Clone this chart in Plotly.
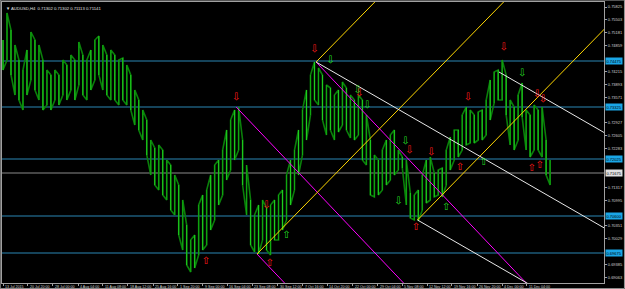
import plotly.graph_objects as go

# ---------------- data ----------------
symbol_title = "AUDUSD,H4  0.71302 0.71302 0.71113 0.71141"
bars_per_sample = 5

high = [0.75, 0.75675, 0.7525, 0.74875, 0.745, 0.7425, 0.7475, 0.752, 0.75, 0.74875,
        0.745, 0.7425, 0.74125, 0.7425, 0.74125, 0.745, 0.74375, 0.74625, 0.745, 0.7495,
        0.74625, 0.745, 0.7475, 0.75, 0.751, 0.74875, 0.74625, 0.7475, 0.74625, 0.745,
        0.7455, 0.74375, 0.74125, 0.7375, 0.735, 0.7325, 0.73, 0.725, 0.723, 0.72375,
        0.7225, 0.72, 0.71875, 0.71625, 0.71375, 0.71, 0.70375, 0.70, 0.70125, 0.70875,
        0.71125, 0.7125, 0.71625, 0.71875, 0.72, 0.7225, 0.7275, 0.73, 0.7325, 0.73325,
        0.725, 0.71875, 0.71, 0.70625, 0.70875, 0.71, 0.708, 0.70875, 0.71, 0.71125,
        0.7125, 0.71625, 0.72, 0.7225, 0.7275, 0.7325, 0.7375, 0.74125, 0.7445, 0.743,
        0.74125, 0.73875, 0.738, 0.73625, 0.7375, 0.7395, 0.738, 0.73625, 0.735, 0.73625,
        0.735, 0.73125, 0.725, 0.72125, 0.72, 0.7225, 0.725, 0.72625, 0.7275, 0.7225,
        0.72075, 0.72, 0.71175, 0.71125, 0.7125, 0.71625, 0.72, 0.72075, 0.71675, 0.7175,
        0.718, 0.7225, 0.72575, 0.7275, 0.7275, 0.73125, 0.73325, 0.7325, 0.73125, 0.732,
        0.7325, 0.735, 0.74, 0.742, 0.7425, 0.745, 0.74125, 0.735, 0.73325, 0.73625,
        0.73925, 0.7325, 0.73125, 0.73375, 0.7325, 0.73325, 0.725, 0.72]
low = [0.7425, 0.745, 0.74125, 0.73625, 0.735, 0.7325, 0.73625, 0.74, 0.7375, 0.735,
       0.7325, 0.73375, 0.7325, 0.735, 0.73375, 0.73625, 0.735, 0.7375, 0.735, 0.73875,
       0.73625, 0.735, 0.7375, 0.74, 0.74125, 0.7375, 0.73625, 0.735, 0.735, 0.73375,
       0.735, 0.73375, 0.7325, 0.72875, 0.7275, 0.725, 0.72125, 0.71625, 0.71375, 0.7125,
       0.71125, 0.71, 0.7075, 0.70625, 0.70125, 0.6975, 0.69375, 0.692, 0.693, 0.69625,
       0.6975, 0.69875, 0.7025, 0.705, 0.70875, 0.71125, 0.715, 0.7175, 0.72, 0.7225,
       0.71375, 0.70625, 0.69875, 0.697, 0.6965, 0.70, 0.6975, 0.69625, 0.70, 0.70,
       0.7025, 0.705, 0.70875, 0.7125, 0.71625, 0.72125, 0.725, 0.73125, 0.735, 0.73375,
       0.73, 0.72625, 0.7275, 0.725, 0.727, 0.72875, 0.7275, 0.7255, 0.725, 0.72625,
       0.72, 0.71875, 0.71125, 0.71075, 0.71125, 0.7125, 0.71375, 0.715, 0.71625, 0.7175,
       0.718, 0.70875, 0.7055, 0.705, 0.70475, 0.7075, 0.70925, 0.71, 0.71075, 0.71125,
       0.71075, 0.71375, 0.7175, 0.72, 0.72075, 0.7225, 0.72375, 0.72425, 0.72425, 0.725,
       0.725, 0.72625, 0.73, 0.73425, 0.735, 0.735, 0.73125, 0.72375, 0.7225, 0.725,
       0.73075, 0.7225, 0.72075, 0.7225, 0.7225, 0.72075, 0.71625, 0.71375]

# horizontal levels
h_levels = [0.74475, 0.73325, 0.72025, 0.70600, 0.69675]
grey_level = 0.71675

# trend lines: (bar1, price1, bar2, price2)
magenta_lines = [(292, 0.73325, 592, 0.67025),
                 (318, 0.69650, 418, 0.67550),
                 (392, 0.74450, 692, 0.68150)]
yellow_lines = [(318, 0.69650, 718, 0.77810),
                (392, 0.74450, 492, 0.76490),
                (519, 0.70500, 759, 0.75396)]
white_lines = [(392, 0.74450, 792, 0.69850),
               (621, 0.74200, 821, 0.71900),
               (519, 0.70500, 719, 0.68200)]

# signal arrows (bar, price)
red_down_bar = [292, 390, 330, 446, 509, 536, 582, 627, 669, 676]
red_down_px = [0.73575, 0.74775, 0.70875, 0.73675, 0.72250, 0.72200, 0.73575, 0.74825, 0.73650, 0.73525]
red_up_bar = [254, 334, 517, 572, 662, 672]
red_up_px = [0.69475, 0.69425, 0.70325, 0.71825, 0.71800, 0.71875]
green_down_bar = [410, 444, 456, 504, 495, 650]
green_down_px = [0.74500, 0.73750, 0.73375, 0.72475, 0.70975, 0.74175]
green_up_bar = [355, 555, 602]
green_up_px = [0.70125, 0.70825, 0.71950]

# axis labels
y_ticks = [0.75825, 0.75503, 0.75181, 0.74859, 0.74537, 0.74215, 0.73893, 0.73571,
           0.73249, 0.72927, 0.72605, 0.72283, 0.71961, 0.71639, 0.71317, 0.70995,
           0.70673, 0.70351, 0.70029, 0.69707, 0.69385, 0.69063]
date_labels = ["13 Jul 2015", "20 Jul 20:00", "28 Jul 00:00", "4 Aug 04:00", "11 Aug 08:00",
               "18 Aug 12:00", "25 Aug 16:00", "1 Sep 20:00", "9 Sep 00:00", "16 Sep 04:00",
               "23 Sep 08:00", "30 Sep 12:00", "7 Oct 16:00", "14 Oct 20:00", "22 Oct 00:00",
               "29 Oct 04:00", "5 Nov 08:00", "12 Nov 12:00", "19 Nov 16:00", "26 Nov 20:00",
               "4 Dec 00:00", "11 Dec 04:00"]
date_label_bars = [0, 31, 62, 94, 125, 156, 188, 219, 250, 281, 312, 344, 375, 406, 438,
                   469, 500, 531, 562, 594, 625, 656]

# ---------------- figure ----------------
bars = [i * bars_per_sample for i in range(len(high))]

path_x, path_y = [], []
seg_a_x, seg_a_y, seg_b_x, seg_b_y = [], [], [], []
for i, (b, h, l) in enumerate(zip(bars, high, low)):
    path_x += [b, b]
    path_y += [h, l] if i % 2 == 0 else [l, h]
    if i % 2 == 0:
        seg_a_x += [b, b, None]
        seg_a_y += [h, l, None]
    else:
        seg_b_x += [b, b, None]
        seg_b_y += [h, l, None]

fig = go.Figure()

for lv in h_levels:
    fig.add_shape(type="line", xref="paper", x0=0, x1=1, yref="y", y0=lv, y1=lv,
                  line=dict(color="#2a86b4", width=1), layer="below")
fig.add_shape(type="line", xref="paper", x0=0, x1=1, yref="y", y0=grey_level, y1=grey_level,
              line=dict(color="#8a8a8a", width=1), layer="below")

fig.add_trace(go.Scatter(x=path_x, y=path_y, mode="lines",
                         line=dict(color="#0a7f0a", width=1.6), hoverinfo="skip"))
fig.add_trace(go.Scatter(x=seg_a_x, y=seg_a_y, mode="lines",
                         line=dict(color="#1fd01f", width=1), hoverinfo="skip"))
fig.add_trace(go.Scatter(x=seg_b_x, y=seg_b_y, mode="lines",
                         line=dict(color="#11a811", width=1), hoverinfo="skip"))

def add_lines(lines, color):
    for (b1, p1, b2, p2) in lines:
        fig.add_trace(go.Scatter(x=[b1, b2], y=[p1, p2], mode="lines",
                                 line=dict(color=color, width=1), hoverinfo="skip"))

add_lines(magenta_lines, "#ff00ff")
add_lines(yellow_lines, "#ffd700")
add_lines(white_lines, "#e8e8e8")

def add_arrows(bx, py, glyph, color):
    fig.add_trace(go.Scatter(x=bx, y=py, mode="text", text=[glyph] * len(bx),
                             textposition="middle center",
                             textfont=dict(color=color, size=10, family="DejaVu Sans"),
                             hoverinfo="skip"))

add_arrows(red_down_bar, red_down_px, "⇩", "#ff1a1a")
add_arrows(red_up_bar, red_up_px, "⇧", "#ff1a1a")
add_arrows(green_down_bar, green_down_px, "⇩", "#22dd22")
add_arrows(green_up_bar, green_up_px, "⇧", "#22dd22")

# tick labels hidden behind the highlighted level labels are left out
marked = h_levels + [grey_level]
shown_ticks = [v for v in y_ticks if min(abs(v - m) for m in marked) > 0.0011]

annotations = []
for lbl, b in zip(date_labels, date_label_bars):
    annotations.append(dict(x=b, xref="x", y=0, yref="paper", text=lbl, showarrow=False,
                            xanchor="left", yanchor="top", yshift=0,
                            font=dict(size=3.6, color="#d0d0d0", family="Liberation Sans")))
for lv in h_levels:
    annotations.append(dict(x=1, xref="paper", y=lv, yref="y", text=f"{lv:.5f}", showarrow=False,
                            xanchor="left", yanchor="middle", xshift=1,
                            bgcolor="#1aa6e6", borderpad=0.5,
                            font=dict(size=4, color="#000000", family="Liberation Sans")))
annotations.append(dict(x=1, xref="paper", y=grey_level, yref="y", text=f"{grey_level:.5f}",
                        showarrow=False, xanchor="left", yanchor="middle", xshift=1,
                        bgcolor="#e0e0e0", borderpad=0.5,
                        font=dict(size=4, color="#000000", family="Liberation Sans")))
annotations.append(dict(x=0, xref="paper", y=1, yref="paper", text="▼ " + symbol_title,
                        showarrow=False, xanchor="left", yanchor="top", xshift=2, yshift=-2,
                        font=dict(size=4.2, color="#e0e0e0", family="Liberation Sans")))

fig.update_layout(
    width=625, height=289,
    margin=dict(l=2, r=21, t=2, b=6),
    paper_bgcolor="#000000", plot_bgcolor="#000000",
    showlegend=False,
    annotations=annotations,
    xaxis=dict(range=[-1.25, 752.5], showgrid=False, zeroline=False,
               tickvals=date_label_bars, showticklabels=False,
               ticks="outside", ticklen=2, tickcolor="#a0a0a0",
               showline=True, linecolor="#a0a0a0", linewidth=1, mirror=True),
    yaxis=dict(range=[0.68925, 0.7595], side="right", showgrid=False, zeroline=False,
               tickvals=shown_ticks, ticktext=[f"{v:.5f}" for v in shown_ticks],
               ticks="outside", ticklen=2, tickcolor="#a0a0a0",
               tickfont=dict(size=4, color="#d0d0d0", family="Liberation Sans"),
               showline=True, linecolor="#a0a0a0", linewidth=1, mirror=True),
)

fig.add_shape(type="rect", xref="paper", yref="paper", x0=-0.003, x1=1.034, y0=-0.02, y1=1.007,
              line=dict(color="#9a9a9a", width=1))

fig.write_html("out.html")
